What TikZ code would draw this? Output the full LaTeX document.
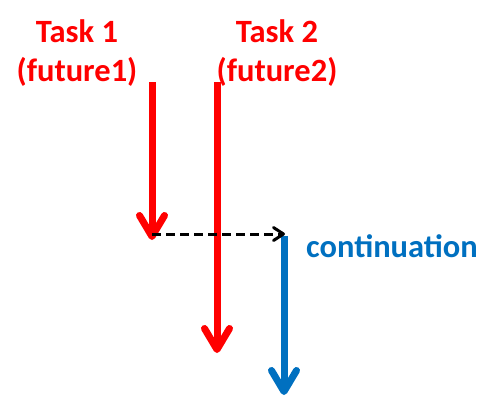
\documentclass[tikz,border=0pt]{standalone}
\usepackage{fontspec}
\setmainfont{Carlito}
\usetikzlibrary{arrows.meta}
\definecolor{taskred}{RGB}{255,0,0}
\definecolor{contblue}{RGB}{0,112,192}
\tikzset{
    tasklabel/.style={text=taskred, font=\fontsize{32.5}{39}\selectfont\bfseries, align=center, inner sep=0pt},
    taskarrow/.style={taskred, line width=7pt, -{Straight Barb[length=21pt,width=25pt,round]}},
    contarrow/.style={contblue, line width=7pt, -{Straight Barb[length=21pt,width=25pt,round]}},
    joinarrow/.style={black, line width=3pt, dash pattern=on 9pt off 5pt, -{Straight Barb[length=10pt,width=13pt,round]}}
}

\begin{document}
\begin{tikzpicture}[x=1pt,y=-1pt]
\useasboundingbox (0,0) rectangle (486,402);
\coordinate (T1s) at (152,82);
\coordinate (T1e) at (152,240);
\coordinate (T2s) at (217,82);
\coordinate (T2e) at (217,353);
\coordinate (J) at (152,234);
\coordinate (C) at (285,234);
\coordinate (Cs) at (284,236);
\coordinate (Ce) at (284,395);

\node[tasklabel] (task1) at (77,53) {Task 1\\(future1)};
\node[tasklabel] (task2) at (277,53) {Task 2\\(future2)};
\node[contblue, font=\fontsize{32.5}{36}\selectfont\bfseries, anchor=west, inner sep=0pt] (cont) at (306,246) {continuation};

\draw[taskarrow] (T2s) -- (T2e);
\draw[taskarrow] (T1s) -- (T1e);
\draw[contarrow] (Cs) -- (Ce);
\draw[joinarrow] (J) -- (C);
\end{tikzpicture}
\end{document}
